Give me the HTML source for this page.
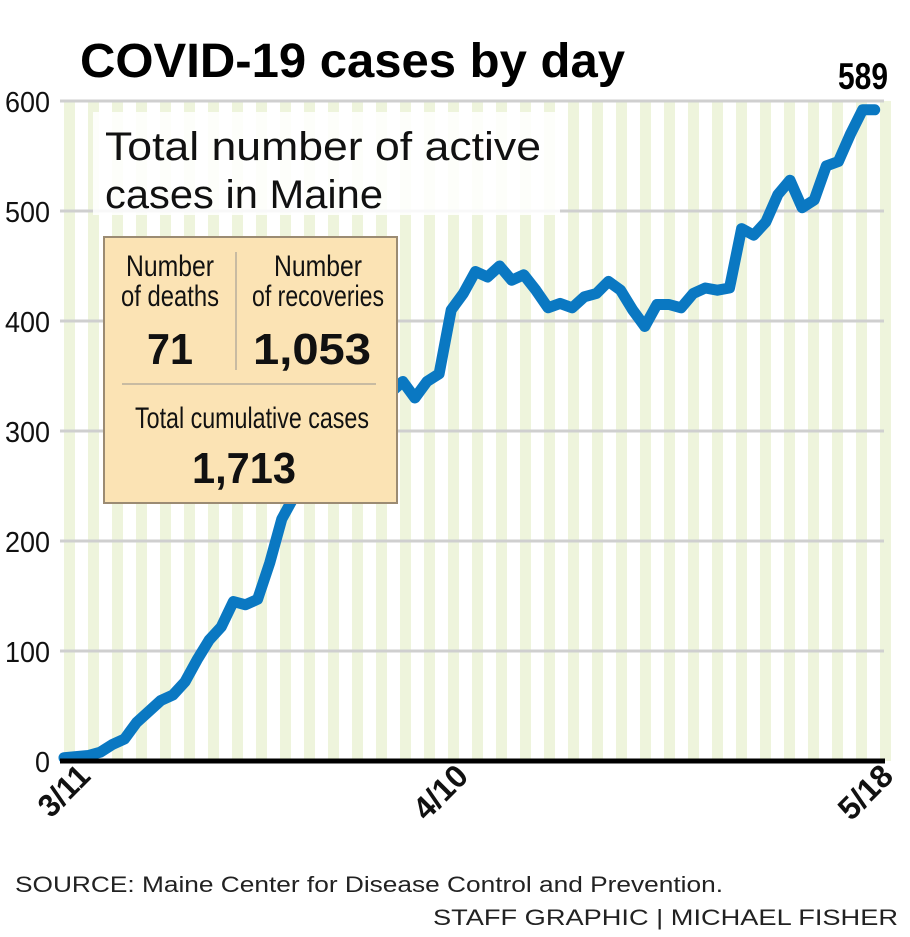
<!DOCTYPE html>
<html><head><meta charset="utf-8"><style>
html,body{margin:0;padding:0;background:#fff;}
svg{display:block;font-family:"Liberation Sans",sans-serif;}
</style></head><body>
<svg width="910" height="937" viewBox="0 0 910 937">
<g id="stripes" fill="#eef4dc"></g>
<g stroke="#cfcfcf" stroke-width="3">
<line x1="60" x2="884" y1="101" y2="101"/><line x1="60" x2="884" y1="211" y2="211"/>
<line x1="60" x2="884" y1="321" y2="321"/><line x1="60" x2="884" y1="431" y2="431"/>
<line x1="60" x2="884" y1="541" y2="541"/><line x1="60" x2="884" y1="651" y2="651"/>
</g>
<rect x="93" y="112" width="467" height="103" fill="#fff" opacity="0.85"/>
<g lengthAdjust="spacingAndGlyphs">
<text x="105" y="160" font-size="40" fill="#111" textLength="436" lengthAdjust="spacingAndGlyphs">Total number of active</text>
<text x="105" y="208" font-size="40" fill="#111" textLength="278" lengthAdjust="spacingAndGlyphs">cases in Maine</text>
</g>
<polyline id="ln" fill="none" stroke="#0a78c2" stroke-width="11" stroke-linejoin="round" stroke-linecap="round"/>
<line x1="60" x2="885" y1="761" y2="761" stroke="#000" stroke-width="5"/>
<rect x="104" y="237" width="293" height="266" fill="#fbe3b4" stroke="#9b8b73" stroke-width="2"/>
<line x1="236" x2="236" y1="252" y2="370" stroke="#c8bba2" stroke-width="2"/>
<line x1="122" x2="376" y1="384" y2="384" stroke="#c8bba2" stroke-width="2"/>
<g fill="#111" text-anchor="middle">
<text x="170" y="276" font-size="30" textLength="88" lengthAdjust="spacingAndGlyphs">Number</text>
<text x="170" y="306" font-size="30" textLength="98" lengthAdjust="spacingAndGlyphs">of deaths</text>
<text x="318" y="276" font-size="30" textLength="88" lengthAdjust="spacingAndGlyphs">Number</text>
<text x="318" y="306" font-size="30" textLength="132" lengthAdjust="spacingAndGlyphs">of recoveries</text>
<text x="252" y="428" font-size="30" textLength="234" lengthAdjust="spacingAndGlyphs">Total cumulative cases</text>
</g>
<g fill="#111" font-weight="bold" text-anchor="middle">
<text x="170" y="364" font-size="44" textLength="46" lengthAdjust="spacingAndGlyphs">71</text>
<text x="312" y="364" font-size="44" textLength="118" lengthAdjust="spacingAndGlyphs">1,053</text>
<text x="244" y="483" font-size="44" textLength="104" lengthAdjust="spacingAndGlyphs">1,713</text>
</g>
<text x="80" y="77" font-size="48" font-weight="bold" fill="#000" textLength="545" lengthAdjust="spacingAndGlyphs">COVID-19 cases by day</text>
<text x="838" y="89" font-size="37" font-weight="bold" fill="#000" textLength="50" lengthAdjust="spacingAndGlyphs">589</text>
<g font-size="29" fill="#111">
<text x="5" y="112" textLength="45" lengthAdjust="spacingAndGlyphs">600</text>
<text x="5" y="222" textLength="45" lengthAdjust="spacingAndGlyphs">500</text>
<text x="5" y="332" textLength="45" lengthAdjust="spacingAndGlyphs">400</text>
<text x="5" y="442" textLength="45" lengthAdjust="spacingAndGlyphs">300</text>
<text x="5" y="552" textLength="45" lengthAdjust="spacingAndGlyphs">200</text>
<text x="5" y="662" textLength="45" lengthAdjust="spacingAndGlyphs">100</text>
<text x="35" y="772" textLength="15" lengthAdjust="spacingAndGlyphs">0</text>
</g>
<g font-size="32" font-weight="bold" fill="#111" text-anchor="end">
<text transform="translate(92,778) rotate(-45)" textLength="58" lengthAdjust="spacingAndGlyphs">3/11</text>
<text transform="translate(470,778) rotate(-45)" textLength="62" lengthAdjust="spacingAndGlyphs">4/10</text>
<text transform="translate(895,778) rotate(-45)" textLength="62" lengthAdjust="spacingAndGlyphs">5/18</text>
</g>
<text x="15" y="892" font-size="22" fill="#222" textLength="708" lengthAdjust="spacingAndGlyphs">SOURCE: Maine Center for Disease Control and Prevention.</text>
<text x="433" y="925" font-size="22" fill="#222" textLength="465" lengthAdjust="spacingAndGlyphs">STAFF GRAPHIC | MICHAEL FISHER</text>
</svg>
<script>
var s=document.getElementById('stripes'),h='';
for(var x=64;x<882;x+=24)h+='<rect x="'+x+'" y="101" width="11" height="660"/>';
s.innerHTML=h;
var v=[3,4,5,8,15,20,35,45,55,60,72,92,110,122,145,142,147,180,220,240,240,255,275,290,305,318,330,335,345,330,345,352,410,425,445,440,450,437,442,428,412,416,412,422,425,436,428,410,395,415,415,412,425,430,428,430,484,478,490,515,528,503,510,541,545,570,592,592];
var p=[];for(var i=0;i<v.length;i++)p.push((64+i*12.1)+','+(761-v[i]*1.1));
document.getElementById('ln').setAttribute('points',p.join(' '));
</script>
</body></html>
